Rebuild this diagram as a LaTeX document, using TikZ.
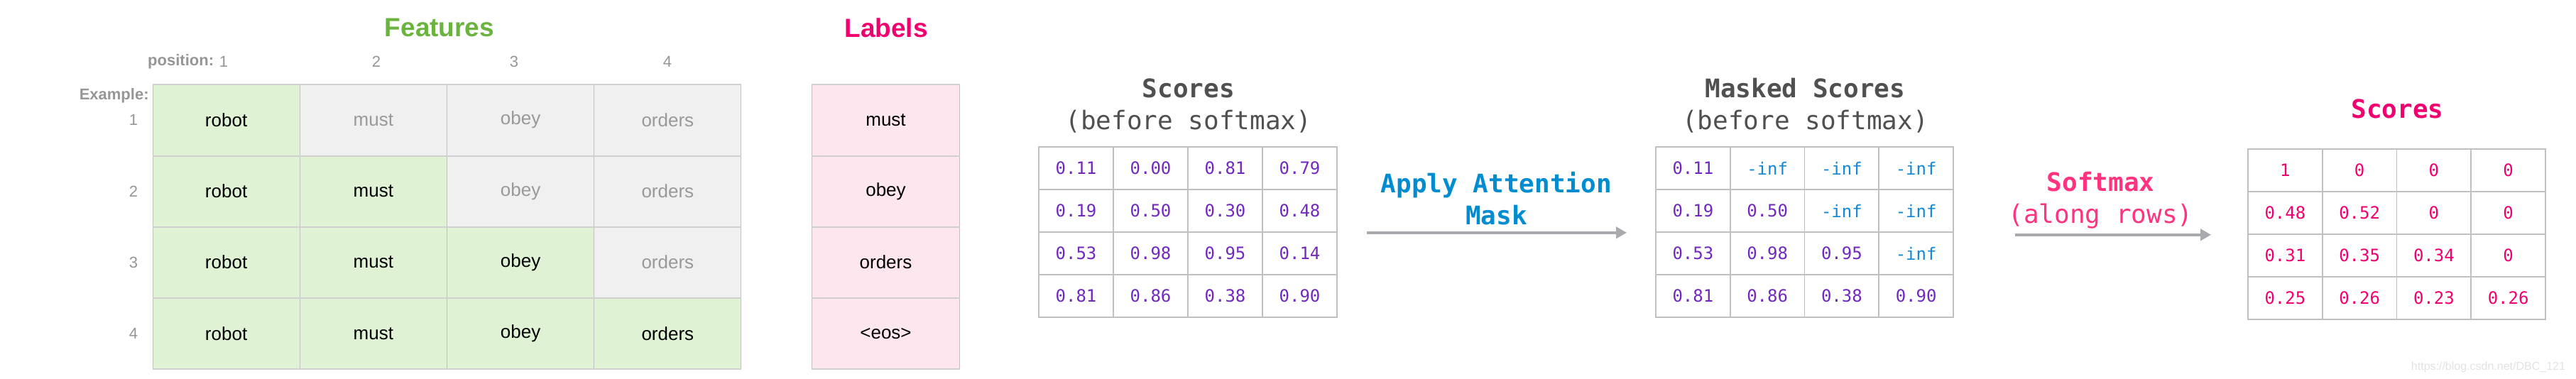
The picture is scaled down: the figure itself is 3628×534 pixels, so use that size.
\documentclass[tikz,border=0pt]{standalone}
\usepackage{fontspec}
\setmainfont{Liberation Sans}
\setmonofont{DejaVu Sans Mono}
\usetikzlibrary{arrows.meta, positioning}

\definecolor{featgreen}{RGB}{106,179,63}
\definecolor{labelpink}{RGB}{240,0,110}
\definecolor{cellgreen}{RGB}{223,242,212}
\definecolor{cellgray}{RGB}{240,240,240}
\definecolor{cellpink}{RGB}{253,230,238}
\definecolor{gridline}{RGB}{192,192,192}
\definecolor{rulegray}{RGB}{208,208,208}
\definecolor{dimtext}{RGB}{153,153,153}
\definecolor{axisgray}{RGB}{150,150,150}
\definecolor{titlegray}{RGB}{80,80,80}
\definecolor{scorepurple}{RGB}{112,40,190}
\definecolor{infblue}{RGB}{20,136,214}
\definecolor{maskblue}{RGB}{0,140,208}
\definecolor{softpink}{RGB}{255,51,128}
\definecolor{arrowgray}{RGB}{168,170,173}
\definecolor{wmgray}{RGB}{226,226,226}

\tikzset{
  featcell/.style={
    rectangle,
    draw=gridline,
    line width=0.5pt,
    minimum width=103.6pt,
    minimum height=50.1pt,
    inner sep=0pt,
    font=\fontsize{13}{15}\selectfont
  },
  seencell/.style={featcell, fill=cellgreen, text=black},
  hiddencell/.style={featcell, fill=cellgray, text=dimtext},
  labelcell/.style={featcell, fill=cellpink, text=black},
  numcell/.style={
    rectangle,
    draw=gridline,
    line width=0.8pt,
    minimum width=52.5pt,
    minimum height=30pt,
    inner sep=0pt,
    font=\ttfamily\fontsize{12}{14}\selectfont
  },
  bigtitle/.style={font=\bfseries\fontsize{18.5}{22}\selectfont},
  monotitle/.style={align=center, font=\ttfamily\fontsize{18}{22.5}\selectfont},
  axislabel/.style={inner sep=0pt, text=axisgray, font=\fontsize{11}{13}\selectfont},
  axisbold/.style={axislabel, font=\bfseries\fontsize{11}{13}\selectfont},
  rowrule/.style={draw=rulegray, line width=1pt},
  arrow/.style={
    draw=arrowgray,
    line width=2pt,
    -{Triangle[length=7.5pt,width=8pt]}
  }
}

\newcommand{\ninf}{\textcolor{infblue}{-inf}}

\begin{document}
\begin{tikzpicture}[x=0.5pt, y=-0.5pt]
  \useasboundingbox (0,0) rectangle (3628,534);

  % features and labels
  \node[bigtitle, text=featgreen] (feattitle) at (619,39) {Features};
  \node[bigtitle, text=labelpink] (labeltitle) at (1248,39) {Labels};

  \node[axislabel] (pos1) at (315,87) {1};
  \node[axisbold, left=3.5pt of pos1] (postext) {position:};
  \foreach \c/\x in {2/530, 3/724, 4/940}
    \node[axislabel] (pos\c) at (\x,87) {\c};
  \node[axisbold, anchor=east] (extext) at (210,135) {Example:};

  \foreach \r in {1,...,4} {
    \node[axislabel] (ex\r) at (188, {119+(\r-0.5)*100.25}) {\r};
    \foreach \w [count=\c] in {robot,must,obey,orders} {
      \ifnum\c>\r \def\cellstyle{hiddencell}\else\def\cellstyle{seencell}\fi
      \node[\cellstyle] (f-\r-\c) at ({215+(\c-0.5)*207.25}, {119+(\r-0.5)*100.25}) {\w};
    }
  }
  \foreach \w [count=\r] in {must,obey,orders,<eos>}
    \node[labelcell] (l-\r) at (1247.5, {119+(\r-0.5)*100.25}) {\w};

  \draw[rowrule] (f-1-1.north west) -- (f-1-4.north east);
  \draw[rowrule] (l-1.north west) -- (l-1.north east);
  \foreach \r in {1,...,4} {
    \draw[rowrule] (f-\r-1.south west) -- (f-\r-4.south east);
    \draw[rowrule] (l-\r.south west) -- (l-\r.south east);
  }

  % raw scores
  \foreach \r/\vals in {1/{0.11,0.00,0.81,0.79}, 2/{0.19,0.50,0.30,0.48},
                        3/{0.53,0.98,0.95,0.14}, 4/{0.81,0.86,0.38,0.90}}
    \foreach \v [count=\c] in \vals
      \node[numcell, text=scorepurple] (s-\r-\c) at ({1463+(\c-0.5)*105}, {207+(\r-0.5)*60}) {\v};
  \node[monotitle, text=titlegray, above=6pt of s-1-2.north east] (stitle) {\textbf{Scores}\\(before softmax)};

  % masked scores
  \foreach \r/\vals in {1/{0.11,\ninf,\ninf,\ninf}, 2/{0.19,0.50,\ninf,\ninf},
                        3/{0.53,0.98,0.95,\ninf}, 4/{0.81,0.86,0.38,0.90}}
    \foreach \v [count=\c] in \vals
      \node[numcell, text=scorepurple] (m-\r-\c) at ({2332+(\c-0.5)*104.75}, {207+(\r-0.5)*60}) {\v};
  \node[monotitle, text=titlegray, above=6pt of m-1-2.north east] (mtitle) {\textbf{Masked Scores}\\(before softmax)};

  % softmax scores
  \foreach \r/\vals in {1/{1,0,0,0}, 2/{0.48,0.52,0,0},
                        3/{0.31,0.35,0.34,0}, 4/{0.25,0.26,0.23,0.26}}
    \foreach \v [count=\c] in \vals
      \node[numcell, text=labelpink] (p-\r-\c) at ({3166+(\c-0.5)*104.75}, {210+(\r-0.5)*60}) {\v};
  \node[monotitle, text=labelpink, above=17.5pt of p-1-2.north east] (ptitle) {\textbf{Scores}};

  % arrows
  \draw[arrow, shorten <=20.5pt, shorten >=20pt] (s-2-4.south east) -- (m-2-1.south west)
    node[midway, above=1pt, monotitle, text=maskblue] (masklabel) {\textbf{Apply Attention}\\\textbf{Mask}};
  \draw[arrow, shorten <=43pt, shorten >=25.5pt] (m-2-4.south east |- p-2-1.south west) -- (p-2-1.south west)
    node[midway, above=0pt, monotitle, text=softpink] (softlabel) {\textbf{Softmax}\\(along rows)};

  \node[font=\fontsize{8}{10}\selectfont, text=wmgray, anchor=east] (wm) at (3620,517) {https://blog.csdn.net/DBC\_121};
\end{tikzpicture}
\end{document}
